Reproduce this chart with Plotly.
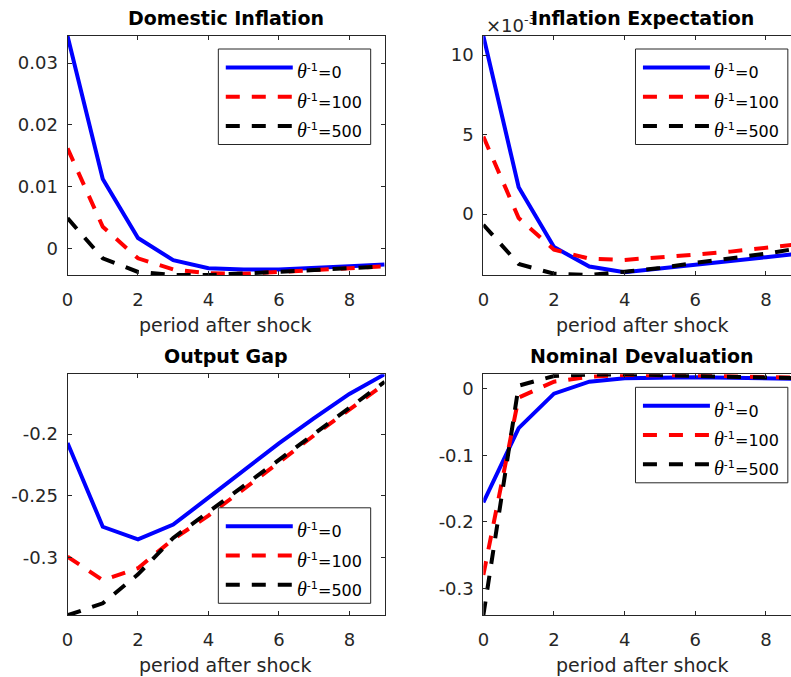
import plotly.graph_objects as go

W, H = 791, 677

periods = [0, 1, 2, 3, 4, 5, 6, 7, 8, 9]
theta_inv = [0, 100, 500]

# Domestic inflation
dom_infl_0 = [0.0344, 0.01123, 0.0017, -0.0019, -0.0032, -0.0034, -0.0034, -0.0032, -0.0029, -0.0026]
dom_infl_100 = [0.0162, 0.0035, -0.0016, -0.0034, -0.0040, -0.0041, -0.0038, -0.0035, -0.0032, -0.0029]
dom_infl_500 = [0.0049, -0.0016, -0.0038, -0.0043, -0.0043, -0.0041, -0.0038, -0.0035, -0.0032, -0.0029]

# Inflation expectation (units of 1e-3)
infl_exp_0 = [11.2, 1.69, -2.07, -3.30, -3.66, -3.44, -3.19, -2.95, -2.71, -2.47]
infl_exp_100 = [4.87, -0.25, -2.24, -2.80, -2.88, -2.74, -2.55, -2.36, -2.14, -1.88]
infl_exp_500 = [-0.67, -3.14, -3.75, -3.83, -3.62, -3.39, -3.07, -2.80, -2.49, -2.12]

# Output gap
out_gap_0 = [-0.2072, -0.2750, -0.2852, -0.2732, -0.2515, -0.2290, -0.2075, -0.1872, -0.1676, -0.1517]
out_gap_100 = [-0.2992, -0.3182, -0.3085, -0.2850, -0.2660, -0.2450, -0.2230, -0.2010, -0.1800, -0.1595]
out_gap_500 = [-0.3466, -0.3369, -0.3135, -0.2840, -0.2630, -0.2420, -0.2210, -0.1990, -0.1780, -0.1578]

# Nominal devaluation
nom_dev_0 = [-0.1706, -0.0590, -0.0070, 0.0110, 0.0160, 0.0175, 0.0175, 0.0170, 0.0160, 0.0150]
nom_dev_100 = [-0.2800, -0.0130, 0.0110, 0.0185, 0.0210, 0.0212, 0.0205, 0.0192, 0.0180, 0.0170]
nom_dev_500 = [-0.3407, 0.0050, 0.0196, 0.0218, 0.0221, 0.0212, 0.0202, 0.0190, 0.0172, 0.0160]

titles = ["Domestic Inflation", "Inflation Expectation", "Output Gap", "Nominal Devaluation"]
xlabel = "period after shock"
x_ticks = [0, 2, 4, 6, 8]

y_ticks = [
    [0, 0.01, 0.02, 0.03],
    [0, 0.005, 0.01],
    [-0.3, -0.25, -0.2],
    [-0.3, -0.2, -0.1, 0],
]
y_ticktext = [
    ["0", "0.01", "0.02", "0.03"],
    ["0", "5", "10"],
    ["-0.3", "-0.25", "-0.2"],
    ["-0.3", "-0.2", "-0.1", "0"],
]

series = [
    [dom_infl_0, dom_infl_100, dom_infl_500],
    [[v * 1e-3 for v in infl_exp_0], [v * 1e-3 for v in infl_exp_100], [v * 1e-3 for v in infl_exp_500]],
    [out_gap_0, out_gap_100, out_gap_500],
    [nom_dev_0, nom_dev_100, nom_dev_500],
]

colors = ["rgb(0,0,255)", "rgb(255,0,0)", "rgb(0,0,0)"]
dashes = ["solid", "14px,12px", "14px,12px"]
AX = "#262626"
SANS = "DejaVu Sans"


def px(x):
    return x / W


def py(y):
    return 1 - y / H


# panel boxes in pixels: (left, top, right, bottom, x_max)
panels = [
    (62, 36, 381.5, 275, 9),
    (481, 36, 791, 275, (791 - 481) / 35.59),
    (62, 374.3, 381.5, 615.3, 9),
    (481, 374.3, 791, 615.3, (791 - 481) / 35.59),
]
legend_corner = ["ne", "ne", "se", "ne"]

fig = go.Figure()
shapes = []
annotations = []

for i, (l, t, r, b, xmax) in enumerate(panels):
    k = "" if i == 0 else str(i + 1)
    xa, ya = "x" + k, "y" + k
    for j, ys in enumerate(series[i]):
        fig.add_trace(go.Scatter(
            x=periods, y=ys, mode="lines", xaxis=xa, yaxis=ya,
            line=dict(color=colors[j], width=4, dash=dashes[j]),
            showlegend=False, hoverinfo="skip",
        ))
    all_y = [v for ys in series[i] for v in ys]
    right_clipped = xmax < 9
    fig.layout["xaxis" + k] = dict(
        domain=[px(l), px(r)], range=[0, xmax], anchor=ya,
        tickvals=x_ticks, ticks="inside", ticklen=4, tickcolor=AX, tickwidth=1,
        showline=True, linecolor=AX, linewidth=1, mirror="ticks",
        showgrid=False, zeroline=False, ticklabelstandoff=8,
        tickfont=dict(family=SANS, size=18, color=AX),
    )
    fig.layout["yaxis" + k] = dict(
        domain=[py(b), py(t)], range=[min(all_y), max(all_y)], anchor=xa,
        tickvals=y_ticks[i], ticktext=y_ticktext[i],
        ticks="inside", ticklen=4, tickcolor=AX, tickwidth=1,
        showline=True, linecolor=AX, linewidth=1,
        mirror=False if right_clipped else "ticks",
        showgrid=False, zeroline=False, ticklabelstandoff=5,
        tickfont=dict(family=SANS, size=18, color=AX),
    )

    full_right = l + 35.44 * 9 if not right_clipped else l + 35.59 * 9
    cx = (l + full_right) / 2

    # panel title
    annotations.append(dict(
        x=px(cx), y=py(t - 18), xref="paper", yref="paper",
        text="<b>" + titles[i] + "</b>", showarrow=False,
        xanchor="center", yanchor="middle",
        font=dict(family=SANS, size=19, color="black"),
    ))
    # x-axis label
    annotations.append(dict(
        x=px(cx), y=py(b + 50), xref="paper", yref="paper",
        text=xlabel, showarrow=False, xanchor="center", yanchor="middle",
        font=dict(family=SANS, size=19, color=AX),
    ))

    # legend box
    bx1 = full_right - 13.5
    bx0 = bx1 - 153.5
    if legend_corner[i] == "ne":
        by0 = t + 13
    else:
        by0 = b - 12 - 95.5
    by1 = by0 + 95.5
    shapes.append(dict(
        type="rect", xref="paper", yref="paper",
        x0=px(bx0), x1=px(bx1), y0=py(by1), y1=py(by0),
        fillcolor="white", line=dict(color=AX, width=1), layer="above",
    ))
    for j, tv in enumerate(theta_inv):
        ly = by0 + 18.5 + 29.2 * j
        shapes.append(dict(
            type="line", xref="paper", yref="paper",
            x0=px(bx0 + 7.5), x1=px(bx0 + 75), y0=py(ly), y1=py(ly),
            line=dict(color=colors[j], width=4, dash=dashes[j]), layer="above",
        ))
        annotations.append(dict(
            x=px(bx0 + 77), y=py(ly + 4), xref="paper", yref="paper",
            text='<span style="font-family:Liberation Serif;font-size:20px"><i>θ</i></span>'
                 '<sup>-1</sup>=' + str(tv),
            showarrow=False, xanchor="left", yanchor="middle",
            font=dict(family=SANS, size=16, color="black"),
        ))

# exponent label of the inflation-expectation axis
annotations.insert(2, dict(
    x=px(482), y=py(24), xref="paper", yref="paper",
    text="×10<sup>-3</sup>", showarrow=False, xanchor="left", yanchor="middle",
    font=dict(family=SANS, size=18, color=AX),
))

fig.update_layout(
    width=W, height=H, margin=dict(l=0, r=0, t=0, b=0),
    paper_bgcolor="white", plot_bgcolor="white",
    shapes=shapes, annotations=annotations,
)

fig.write_html("out.html")
